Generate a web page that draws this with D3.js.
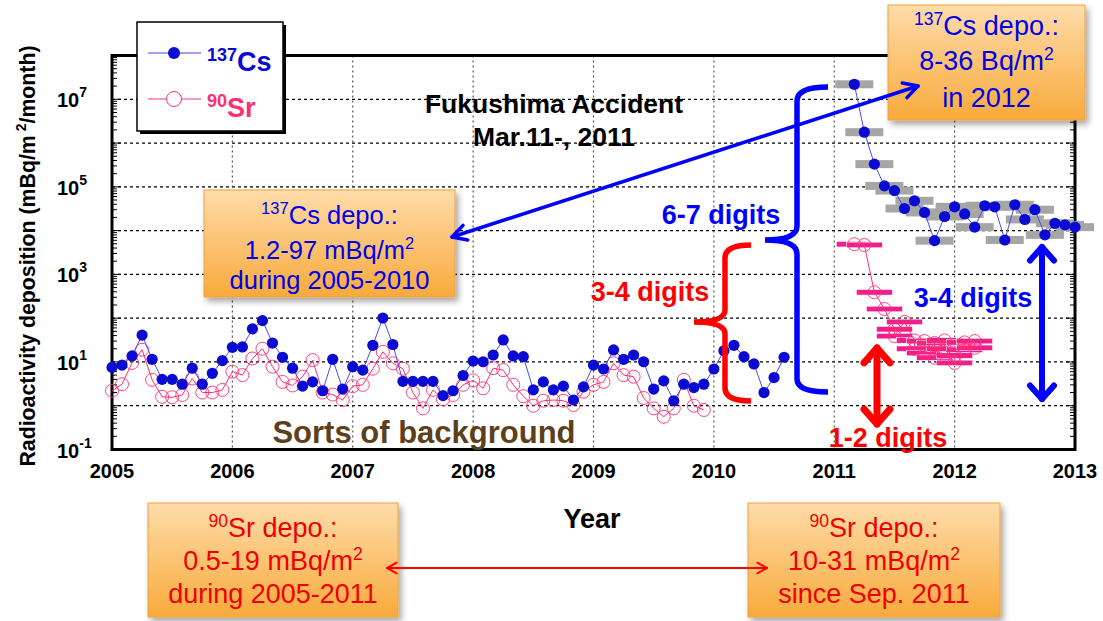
<!DOCTYPE html>
<html>
<head>
<meta charset="UTF-8">
<title>Radioactivity deposition</title>
<style>
  body { margin: 0; background: #fff; font-family: 'Liberation Sans', Arial, sans-serif; overflow: hidden; }
  svg text { font-family: 'Liberation Sans', Arial, sans-serif; }
</style>
</head>
<body>
<svg id="chart" width="1103" height="621"></svg>
<script src="https://d3js.org/d3.v7.min.js"></script>
<script>
// monthly 137Cs deposition (mBq/m2/month), Jan 2005 .. Aug 2010
const csMonthly = [
  7.5, 8.5, 13.7, 41, 11.5, 4.0, 4.0, 3.1, 7.2, 3.1, 5.5, 10.7,
  21.6, 22, 57, 88, 27, 12.8, 7.2, 2.8, 3.5, 2.2, 11.5, 2.4,
  7.8, 6.5, 24, 101, 25, 3.6, 3.6, 3.6, 3.6, 1.7, 2.2, 4.9,
  10.5, 10.1, 14.4, 31.8, 13.7, 13.2, 2.3, 3.5, 2.3, 2.8, 1.35, 2.7,
  8.5, 6.9, 18.8, 11.5, 14.4, 10.1, 2.4, 3.7, 1.3, 3.1, 2.6, 3.1,
  6.9, 18, 24, 13.2, 9, 2.0, 4.4, 12.8
];
// monthly 90Sr deposition, Jan 2005 .. Dec 2009
const srMonthly = [
  2.2, 3.1, 9.5, 19, 3.9, 1.6, 1.56, 1.76, 4.2, 2.0, 2.0, 2.3,
  6.0, 5.0, 12, 20, 7.8, 3.5, 2.9, 4.6, 11, 2.0, 1.8, 1.35,
  2.8, 3.0, 7, 17, 9.3, 7, 2.0, 0.87, 2.3, 1.4, 1.76, 3.0,
  3.8, 2.5, 7.2, 6.5, 3.0, 1.65, 1.0, 1.3, 1.35, 1.3, 1.04, 2.1,
  3.0, 3.5, 9.3, 5.0, 4.6, 1.5, 0.87, 0.56, 0.87, 3.9, 1.0, 0.8
];
// after the accident, monthly from Mar 2011
const csPost = [
  2.2e7, 1.77e6, 3.3e5, 1.05e5, 8.2e4, 3.2e4, 4.8e4, 2.6e4, 5900, 2.1e4, 3.5e4, 2.4e4,
  1.2e4, 3.7e4, 3.5e4, 6100, 3.9e4, 1.8e4, 3.0e4, 8000, 1.47e4, 1.35e4, 1.2e4
];
// 90Sr after the accident: month offset from Mar 2011, value
const srPostMonth = [0, 1, 2, 3, 4, 4, 5, 6, 6, 7, 7, 8, 8, 9, 9, 10, 10, 11, 11, 12, 12];
const srPostValue = [4900, 4700, 390, 162, 56, 39, 82, 31, 20, 30, 16, 27, 12.5, 31, 20, 9.5, 14, 28, 19, 30, 21];

const yearTicks = [2005, 2006, 2007, 2008, 2009, 2010, 2011, 2012, 2013];
const expTicks = [7, 5, 3, 1, -1];

const svg = d3.select('#chart');
const x = d3.scaleLinear().domain([2005, 2013]).range([112, 1075]);
const y = d3.scaleLog().domain([0.1, 1e8]).range([449.5, 55.5]);
const X0 = x.range()[0], X1 = x.range()[1], Y0 = y.range()[1], Y1 = y.range()[0];

const CS = '#0a0ad2', CSLINE = '#4a4af0', SR = '#ff2f74', SRBAR = '#ee1e8c';

const defs = svg.append('defs');
const grad = defs.append('linearGradient').attr('id', 'orange')
  .attr('x1', 0).attr('y1', 0).attr('x2', 0).attr('y2', 1);
grad.append('stop').attr('offset', '0%').attr('stop-color', '#fedcaa');
grad.append('stop').attr('offset', '100%').attr('stop-color', '#f8aa3c');
const sh = defs.append('filter').attr('id', 'shadow')
  .attr('x', '-10%').attr('y', '-10%').attr('width', '130%').attr('height', '140%');
sh.append('feDropShadow').attr('dx', 3).attr('dy', 4).attr('stdDeviation', 3)
  .attr('flood-color', '#000').attr('flood-opacity', 0.35);

// grid
const grid = svg.append('g');
grid.selectAll('.hg').data(d3.range(0, 8)).join('line')
  .attr('x1', X0).attr('x2', X1)
  .attr('y1', d => y(Math.pow(10, d))).attr('y2', d => y(Math.pow(10, d)))
  .attr('stroke', '#000').attr('stroke-width', 1.3).attr('stroke-dasharray', '3,3');
grid.selectAll('.vg').data(yearTicks.slice(1, -1)).join('line')
  .attr('y1', Y0).attr('y2', Y1)
  .attr('x1', d => x(d)).attr('x2', d => x(d))
  .attr('stroke', '#555').attr('stroke-width', 1.2).attr('stroke-dasharray', '2,3');

// minor log ticks on left and right
const minor = [];
for (let e = -1; e < 8; e++) for (let m = 1; m < 10; m++) minor.push({ v: m * Math.pow(10, e), major: m === 1 });
[[X0, 1], [X1, -1]].forEach(([ax, dir]) => {
  svg.append('g').selectAll('line').data(minor).join('line')
    .attr('x1', ax).attr('x2', d => ax + dir * (d.major ? 9 : 5))
    .attr('y1', d => y(d.v)).attr('y2', d => y(d.v))
    .attr('stroke', '#000').attr('stroke-width', 1);
});

// frame
svg.append('rect').attr('x', X0).attr('y', Y0).attr('width', X1 - X0).attr('height', Y1 - Y0)
  .attr('fill', 'none').attr('stroke', '#000').attr('stroke-width', 3);

// tick labels
const yl = svg.append('g');
expTicks.forEach(e => {
  const t = yl.append('text').attr('x', 57).attr('y', y(Math.pow(10, e)) + 8)
    .attr('font-weight', 'bold').attr('font-size', 20);
  t.append('tspan').text('10');
  t.append('tspan').attr('dy', -10).attr('font-size', 14).text(e);
});
svg.append('g').selectAll('text').data(yearTicks).join('text')
  .attr('x', d => x(d)).attr('y', 478).attr('text-anchor', 'middle')
  .attr('font-weight', 'bold').attr('font-size', 20).text(d => d);

svg.append('text').attr('x', 592).attr('y', 528).attr('text-anchor', 'middle')
  .attr('font-weight', 'bold').attr('font-size', 27).text('Year');

const ylab = svg.append('text').attr('transform', 'translate(35,256) rotate(-90)')
  .attr('text-anchor', 'middle').attr('font-weight', 'bold').attr('font-size', 21.3);
ylab.append('tspan').text('Radioactivity deposition (mBq/m');
ylab.append('tspan').attr('dy', -9).attr('font-size', 14).text(' 2');
ylab.append('tspan').attr('dy', 9).text('/month)');

// data helpers
const monthX = (start, i) => x(start + i / 12);
const line = d3.line().x(d => d[0]).y(d => d[1]);

const csPre = csMonthly.map((v, i) => [monthX(2005, i), y(v)]);
const srPre = srMonthly.map((v, i) => [monthX(2005, i), y(v)]);
const csAfter = csPost.map((v, i) => [monthX(2011 + 2 / 12, i), y(v)]);
const srAfter = srPostValue.map((v, i) => [monthX(2011 + 2 / 12, srPostMonth[i]), y(v)]);

const plot = svg.append('g');
// gray period bars for Cs
plot.selectAll('.gb').data(csAfter).join('rect')
  .attr('x', d => d[0] - 19).attr('y', d => d[1] - 4).attr('width', 38).attr('height', 8)
  .attr('fill', '#a6a6a6');
// pink period bars for Sr
plot.selectAll('.pb').data(srAfter).join('rect')
  .attr('x', d => d[0] - 18).attr('y', d => d[1] - 2.8).attr('width', 36).attr('height', 5.6)
  .attr('fill', SRBAR).attr('stroke', '#fff').attr('stroke-width', 0.6);

// Sr lines and circles
plot.append('path').attr('d', line(srPre)).attr('fill', 'none').attr('stroke', SR).attr('stroke-width', 1);
plot.append('path').attr('d', line(srAfter)).attr('fill', 'none').attr('stroke', SR).attr('stroke-width', 1);
plot.selectAll('.sc').data(srPre.concat(srAfter)).join('circle')
  .attr('cx', d => d[0]).attr('cy', d => d[1]).attr('r', 6.5)
  .attr('fill', 'none').attr('stroke', SR).attr('stroke-width', 0.9);

// Cs lines and dots
plot.append('path').attr('d', line(csPre)).attr('fill', 'none').attr('stroke', CSLINE).attr('stroke-width', 1);
plot.append('path').attr('d', line(csAfter)).attr('fill', 'none').attr('stroke', CSLINE).attr('stroke-width', 1);
plot.selectAll('.cc').data(csPre.concat(csAfter)).join('circle')
  .attr('cx', d => d[0]).attr('cy', d => d[1]).attr('r', 5.6)
  .attr('fill', CS);

// legend
const lg = svg.append('g');
lg.append('rect').attr('x', 140).attr('y', 25).attr('width', 146).attr('height', 109).attr('fill', '#000');
lg.append('rect').attr('x', 137).attr('y', 22).attr('width', 146).attr('height', 109)
  .attr('fill', '#fff').attr('stroke', '#000').attr('stroke-width', 1.5);
lg.append('line').attr('x1', 148).attr('x2', 201).attr('y1', 53).attr('y2', 53).attr('stroke', '#8080f0').attr('stroke-width', 1.5);
lg.append('circle').attr('cx', 174).attr('cy', 53).attr('r', 6).attr('fill', CS);
lg.append('line').attr('x1', 148).attr('x2', 201).attr('y1', 99).attr('y2', 99).attr('stroke', SR).attr('stroke-width', 1);
lg.append('circle').attr('cx', 174).attr('cy', 99).attr('r', 7.5).attr('fill', '#fff').attr('stroke', SR).attr('stroke-width', 1);

function supText(g, xx, yy, parts, size, supSize, color, weight, anchor) {
  const t = g.append('text').attr('x', xx).attr('y', yy).attr('fill', color)
    .attr('font-size', size).attr('font-weight', weight || 'normal')
    .attr('text-anchor', anchor || 'middle');
  let up = false;
  parts.forEach(p => {
    const s = t.append('tspan').text(p.t);
    if (p.sup && !up) { s.attr('dy', -size * 0.38).attr('font-size', supSize); up = true; }
    else if (!p.sup && up) { s.attr('dy', size * 0.38); up = false; }
  });
  return t;
}
supText(lg, 207, 71, [{ t: '137', sup: true }, { t: 'Cs' }], 27, 18, CS, 'bold', 'start');
supText(lg, 207, 117, [{ t: '90', sup: true }, { t: 'Sr' }], 27, 18, SR, 'bold', 'start');

// annotations
const ann = svg.append('g');
ann.append('text').attr('x', 554).attr('y', 113).attr('text-anchor', 'middle')
  .attr('font-weight', 'bold').attr('font-size', 26.5).text('Fukushima Accident');
ann.append('text').attr('x', 554).attr('y', 146).attr('text-anchor', 'middle')
  .attr('font-weight', 'bold').attr('font-size', 26.5).text('Mar.11-, 2011');
ann.append('text').attr('x', 424).attr('y', 443).attr('text-anchor', 'middle')
  .attr('font-weight', 'bold').attr('font-size', 31).attr('fill', '#5e3f1c').text('Sorts of background');

// braces
ann.append('path')
  .attr('d', 'M828,87 Q797,87 797,101 L797,226 Q797,240 765,240 Q797,240 797,254 L797,379 Q797,392 828,392')
  .attr('fill', 'none').attr('stroke', '#0000ff').attr('stroke-width', 5.5);
ann.append('path')
  .attr('d', 'M751,245 Q725,245 725,258 L725,310 Q725,322 694,322 Q725,322 725,334 L725,388 Q725,401 751,401')
  .attr('fill', 'none').attr('stroke', '#ff0000').attr('stroke-width', 5.5);
const digit = (xx, yy, color, txt) => ann.append('text').attr('x', xx).attr('y', yy)
  .attr('text-anchor', 'middle').attr('font-weight', 'bold').attr('font-size', 27)
  .attr('fill', color).text(txt);
digit(721, 224, '#0000ff', '6-7 digits');
digit(650, 301, '#ff0000', '3-4 digits');
digit(973, 307, '#0000ff', '3-4 digits');
digit(888, 447, '#ff0000', '1-2 digits');

// vertical double arrows
function vArrow(xx, y1, y2, color, w, head) {
  const g = ann.append('g').attr('stroke', color).attr('stroke-width', w).attr('fill', 'none')
    .attr('stroke-linecap', 'round').attr('stroke-linejoin', 'round');
  g.append('line').attr('x1', xx).attr('x2', xx).attr('y1', y1 + 2).attr('y2', y2 - 2);
  g.append('path').attr('d', `M${xx - head},${y1 + head * 1.3} L${xx},${y1 + 2} L${xx + head},${y1 + head * 1.3}`);
  g.append('path').attr('d', `M${xx - head},${y2 - head * 1.3} L${xx},${y2 - 2} L${xx + head},${y2 - head * 1.3}`);
}
vArrow(1042, 245, 401, '#0000ff', 6, 12);
vArrow(877, 346, 426, '#ff0000', 7, 13);

// orange boxes
function box(x0, y0, w, h, color, baselines, size, lines) {
  const g = svg.append('g');
  g.append('rect').attr('x', x0).attr('y', y0).attr('width', w).attr('height', h)
    .attr('fill', 'url(#orange)').attr('stroke', '#f2a23a').attr('stroke-width', 1)
    .attr('filter', 'url(#shadow)');
  lines.forEach((parts, i) => {
    supText(g, x0 + w / 2, baselines[i], parts, size, size * 0.65, color);
  });
}
box(204, 190, 251, 107, '#0000e6', [224, 259, 289], 25.5, [
  [{ t: '137', sup: true }, { t: 'Cs depo.:' }],
  [{ t: '1.2-97 mBq/m' }, { t: '2', sup: true }],
  [{ t: 'during 2005-2010' }]
]);
box(888, 5, 197, 115, '#0000e6', [35, 70, 107], 27, [
  [{ t: '137', sup: true }, { t: 'Cs depo.:' }],
  [{ t: '8-36 Bq/m' }, { t: '2', sup: true }],
  [{ t: 'in 2012' }]
]);
box(148, 503, 250, 114, '#ee0000', [537, 570, 603], 27, [
  [{ t: '90', sup: true }, { t: 'Sr depo.:' }],
  [{ t: '0.5-19 mBq/m' }, { t: '2', sup: true }],
  [{ t: 'during 2005-2011' }]
]);
box(748, 503, 252, 114, '#ee0000', [537, 570, 603], 27, [
  [{ t: '90', sup: true }, { t: 'Sr depo.:' }],
  [{ t: '10-31 mBq/m' }, { t: '2', sup: true }],
  [{ t: 'since Sep. 2011' }]
]);

// connecting arrows
function hArrow(x1, y1, x2, y2, color, w, head) {
  const g = svg.append('g').attr('stroke', color).attr('stroke-width', w).attr('fill', 'none')
    .attr('stroke-linecap', 'round').attr('stroke-linejoin', 'round');
  g.append('line').attr('x1', x1).attr('y1', y1).attr('x2', x2).attr('y2', y2);
  const a = Math.atan2(y2 - y1, x2 - x1);
  [[x1, y1, a + Math.PI], [x2, y2, a]].forEach(([px, py, ang]) => {
    const l = [ang + Math.PI - 0.5, ang + Math.PI + 0.5].map(t => [px + head * Math.cos(t), py + head * Math.sin(t)]);
    g.append('path').attr('d', `M${l[0][0]},${l[0][1]} L${px},${py} L${l[1][0]},${l[1][1]}`);
  });
}
hArrow(452, 237, 918, 86, '#0000ff', 3.5, 16);
hArrow(387, 568, 767, 568, '#ff0000', 2, 11);
</script>
</body>
</html>
